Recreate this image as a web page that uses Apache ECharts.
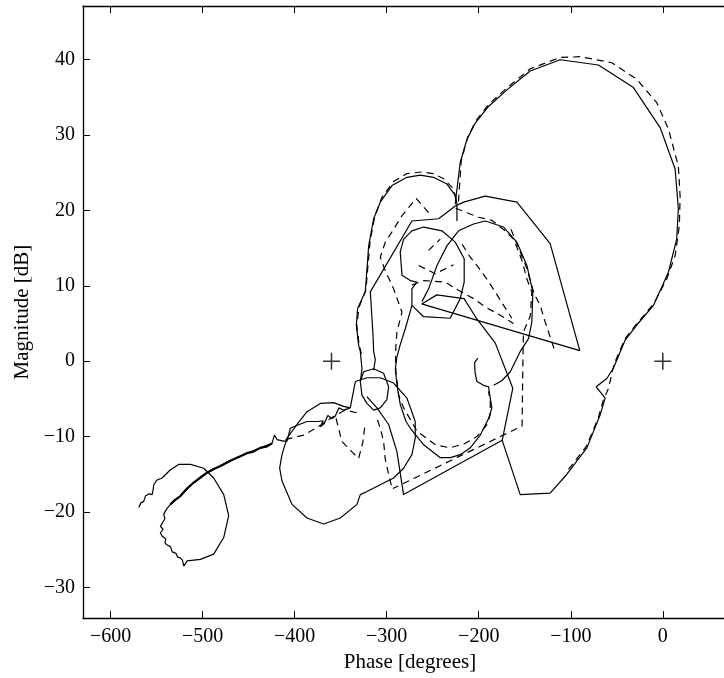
<!DOCTYPE html>
<html>
<head>
<meta charset="utf-8">
<script src="https://cdn.jsdelivr.net/npm/echarts@6/dist/echarts.min.js"></script>
<style>
  html, body { margin: 0; padding: 0; background: #fff; }
  #chart { width: 724px; height: 678px; }
</style>
</head>
<body>
<div id="chart"></div>
<script>
// Nichols plot: open-loop phase [deg] vs magnitude [dB]
const phaseTicks = [-600, -500, -400, -300, -200, -100, 0];
const magTicks = [-30, -20, -10, 0, 10, 20, 30, 40];
const criticalPoints = [[-360, 0], [0, 0]];

// ---- measured response (solid) ----
const measuredMainLoop = [
  [-225.6,20.8],[-223.7,22.8],[-220.1,26.4],[-212.9,29.4],[-203.8,31.6],[-189.4,33.8],[-169.4,36.0],
  [-144.1,38.5],[-111.5,40.0],[-69.9,39.3],[-31.9,36.3],[-2.9,31.0],[13.4,25.5],[16.9,20.2],[15.1,16.2],
  [6.1,11.8],[-10.2,7.4],[-28.3,4.8],[-40.9,2.8],[-53.6,-0.9],[-60.8,-2.3],[-72.4,-3.4],[-62.6,-4.9],
  [-68.0,-7.1],[-82.5,-11.5],[-104.2,-15.0],[-122.4,-17.5],[-154.9,-17.7],[-174.5,-10.5],[-163.0,-3.6],
  [-182.0,2.4],[-202.0,5.6],[-216.0,8.3],[-245.5,8.8],[-262.0,7.6],[-90.2,1.4],[-122.4,15.6],
  [-158.5,21.1],[-192.9,21.9],[-216.4,21.1],[-225.5,20.6],[-243.6,18.9],[-272.6,18.6],[-317.8,9.2],
  [-316.0,5.7],[-314.9,3.5],[-314.2,1.3],[-312.4,0.2],[-314.2,-1.2]
];
const measuredUpperLoop = [
  [-223.7,18.6],[-223.7,20.9],[-225.5,22.0],[-234.6,23.5],[-249.1,24.4],[-263.5,24.7],[-278.0,24.4],
  [-294.3,23.3],[-307.0,21.1],[-314.2,18.9],[-319.6,15.3],[-321.4,12.3],[-323.3,9.2],[-331.6,7.0],
  [-333.0,4.8],[-330.5,2.1],[-328.7,1.3],[-327.5,-0.2],[-326.9,-1.0],[-328.7,-2.7]
];
const measuredSmallRing = [
  [-328.7,-2.7],[-325.1,-1.4],[-314.2,-1.0],[-303.4,-1.6],[-297.9,-3.4],[-299.8,-5.1],[-307.0,-6.2],
  [-314.2,-6.5],[-321.5,-5.6],[-326.9,-4.5],[-328.7,-2.7]
];
const measuredDrop = [
  [-321.5,-4.7],[-310.6,-6.2],[-297.9,-8.4],[-288.9,-12.0],[-281.7,-17.7],[-174.5,-10.5]
];
const measuredInnerLoop = [
  [-272.6,7.4],[-259.9,5.9],[-231.0,5.7],[-220.1,8.3],[-215.8,10.5],[-215.8,13.6],[-225.5,15.8],
  [-240.0,17.3],[-259.9,17.8],[-272.6,17.3],[-281.6,16.2],[-285.3,14.5],[-283.4,11.4],[-274.4,10.7],
  [-267.2,10.5],[-272.6,9.6],[-272.6,7.4]
];
const measuredRightRing = [
  [-261.7,7.9],[-254.5,9.6],[-245.4,12.7],[-234.6,15.3],[-222.0,17.3],[-205.6,18.2],[-192.9,18.6],
  [-173.0,17.8],[-158.5,15.8],[-147.7,12.7],[-141.2,9.2],[-142.3,5.2],[-145.9,3.0],[-154.9,1.3],
  [-165.7,-1.4],[-175.0,-2.6],[-183.8,-3.2]
];
const measuredMidRing = [
  [-272.6,7.4],[-279.8,4.3],[-285.3,2.2],[-289.0,0.5],[-290.6,-1.0],[-288.8,-3.2],[-285.2,-5.8],
  [-279.0,-8.0],[-274.3,-8.9],[-259.8,-11.1],[-241.8,-12.8],[-230.9,-12.8],[-220.0,-12.4],[-209.2,-11.5],
  [-198.3,-9.8],[-189.3,-7.6],[-185.7,-6.2],[-187.5,-4.9],[-189.3,-3.4],[-194.7,-3.2],[-202.0,-2.7],
  [-204.0,-1.5],[-204.5,-0.2],[-201.0,0.4]
];
const measuredBlob = [
  [-339.6,-6.2],[-334.1,-2.7],[-321.5,-2.2],[-307.0,-2.2],[-292.5,-2.9],[-278.0,-4.9],[-269.0,-8.0],
  [-269.0,-10.2],[-272.6,-12.4],[-281.7,-14.2],[-292.5,-15.5],[-307.0,-16.4],[-321.5,-17.3],[-328.7,-17.7],
  [-332.3,-19.0],[-350.4,-20.8],[-368.5,-21.6],[-386.6,-20.8],[-402.9,-19.0],[-413.8,-15.9],[-416.3,-14.2],
  [-413.8,-12.4],[-408.3,-10.2],[-397.5,-8.4],[-386.6,-6.7],[-372.1,-5.6],[-357.7,-5.5],[-346.8,-6.0],
  [-339.6,-6.2]
];
const measuredTail = [
  [-339.6,-6.2],[-346.8,-6.5],[-352.0,-6.2],[-356.0,-7.3],[-359.5,-7.6],[-364.0,-7.2],[-368.0,-8.3],
  [-372.1,-8.7],[-369.0,-7.9],[-375.0,-8.0],[-386.6,-8.0],[-395.0,-8.4],[-404.7,-8.9],[-408.3,-10.6],
  [-412.0,-10.6],[-419.2,-10.4],[-422.0,-9.8],[-424.6,-10.9],[-437.3,-11.5],[-459.0,-12.6],[-462.6,-12.8],
  [-480.7,-13.9],[-495.2,-14.8],[-509.7,-16.1],[-524.2,-17.9],[-535.0,-19.0],[-539.0,-19.6],[-542.3,-20.3],
  [-541.0,-20.9],[-545.9,-21.9],[-543.0,-22.3],[-546.0,-22.8],[-544.1,-23.2],[-540.0,-23.6],[-541.0,-24.1],
  [-538.6,-24.4],[-535.0,-24.6],[-533.0,-25.3],[-529.0,-25.5],[-527.0,-26.0],[-524.2,-26.1],[-522.0,-26.4],
  [-520.5,-27.2]
];
// noisy high-frequency stretch, drawn heavier
const measuredNoise = [
  [-424.6,-10.9],[-430.0,-11.3],[-437.3,-11.5],[-445.0,-12.0],[-452.0,-12.2],[-459.0,-12.6],[-470.0,-13.2],
  [-480.7,-13.9],[-488.0,-14.3],[-495.2,-14.8],[-502.0,-15.4],[-509.7,-16.1],[-517.0,-16.9],[-524.2,-17.9],
  [-530.0,-18.4],[-535.0,-19.0]
];
const measuredLowRing = [
  [-520.5,-27.2],[-516.9,-26.5],[-502.4,-26.3],[-488.0,-25.6],[-477.1,-23.4],[-471.7,-20.5],[-477.1,-17.7],
  [-488.0,-15.5],[-498.8,-14.2],[-513.3,-13.7],[-526.0,-13.7],[-535.0,-14.4],[-544.1,-15.5],[-550.0,-15.8],
  [-553.1,-16.4],[-554.0,-17.2],[-554.9,-17.7],[-558.0,-17.6],[-562.2,-17.9],[-564.0,-18.6],[-567.0,-18.8],
  [-569.4,-19.4]
];

// ---- model response (dashed) ----
const modelMainLoop = [
  [-222.0,21.2],[-219.0,26.6],[-212.0,29.7],[-203.0,31.9],[-189.0,34.1],[-169.0,36.3],[-144.0,38.8],
  [-111.5,40.3],[-89.8,40.4],[-55.4,39.6],[-28.3,37.4],[-6.5,34.3],[6.1,30.8],[16.9,25.9],[18.8,21.9],
  [18.0,18.0],[13.4,14.0],[4.3,10.9],[-10.0,7.6],[-28.0,5.0],[-41.0,3.0],[-53.0,-0.4],[-59.0,-3.6],
  [-65.0,-5.3],[-70.0,-7.5],[-83.0,-11.3],[-104.0,-14.6]
];
const modelUpperLoop = [
  [-225.0,21.5],[-227.0,22.8],[-238.0,24.2],[-250.0,24.9],[-262.0,25.1],[-278.0,24.9],[-292.0,23.9],
  [-305.0,21.8],[-313.0,19.2],[-318.0,16.0],[-320.5,12.5],[-322.5,9.5],[-330.0,7.2],[-332.5,4.8],
  [-330.0,2.2],[-327.5,1.0]
];
const modelInnerPath = [
  [-254.5,19.7],[-268.0,21.6],[-283.4,19.3],[-292.5,17.5],[-301.5,15.8],[-307.0,13.8],[-301.5,12.0],
  [-292.5,9.6],[-283.4,6.5],[-288.9,3.9],[-290.5,1.0],[-290.0,-1.5],[-287.0,-4.5],[-281.6,-6.2],
  [-267.0,-9.3],[-247.0,-11.1],[-231.0,-11.5],[-214.6,-10.9],[-202.0,-10.0],[-191.0,-8.4],[-187.5,-7.1],
  [-187.5,-5.4],[-189.3,-4.0]
];
const modelZigzag = [
  [-265.3,12.7],[-247.2,11.6],[-227.4,12.8]
];
const modelRise = [
  [-254.5,14.7],[-241.8,16.2]
];
const modelCross = [
  [-272.6,10.1],[-259.9,10.7],[-236.4,10.5],[-221.9,9.4],[-205.6,8.3],[-193.0,7.2],[-176.7,6.1],[-162.2,5.0]
];
const modelDiagonal = [
  [-218.0,15.5],[-209.2,13.8],[-202.0,12.7],[-191.2,10.9],[-182.1,9.2],[-173.0,7.4],[-164.0,5.7]
];
const modelRightRing = [
  [-225.0,20.3],[-212.8,19.7],[-200.2,19.1],[-186.0,18.7],[-171.2,17.3],[-162.2,16.2],[-158.5,15.1],
  [-153.1,13.4],[-147.7,10.9],[-142.3,9.2],[-144.0,6.0],[-151.4,3.9],[-152.0,0.0],[-152.9,-8.6],
  [-293.2,-16.9]
];
const modelSlope = [
  [-165.0,17.5],[-158.6,15.6],[-147.7,12.3],[-140.0,9.0],[-133.2,7.4],[-127.8,5.2],[-118.0,1.6]
];
const modelLowPath = [
  [-410.0,-10.4],[-390.0,-9.8],[-372.0,-8.5],[-356.0,-7.2],[-345.0,-6.5],[-330.5,-6.9]
];
const modelLowDip = [
  [-355.0,-7.6],[-352.0,-9.0],[-349.0,-10.6],[-338.0,-12.0],[-330.5,-12.9],[-326.0,-10.8],[-323.3,-8.2]
];
const modelLowRise = [
  [-310.0,-7.8],[-307.0,-8.9],[-303.4,-10.6],[-301.6,-13.0],[-297.9,-15.0],[-294.3,-16.8]
];

const solidTraces = [measuredMainLoop, measuredUpperLoop, measuredSmallRing, measuredDrop, measuredInnerLoop,
  measuredRightRing, measuredMidRing, measuredBlob, measuredTail, measuredLowRing];
const dashedTraces = [modelMainLoop, modelUpperLoop, modelInnerPath, modelZigzag, modelRise, modelCross,
  modelDiagonal, modelRightRing, modelSlope, modelLowPath, modelLowDip, modelLowRise];

const FONT = 'Liberation Serif';
const minus = v => String(v).replace('-', '\u2212');

function trace(data, dashed, width) {
  return {
    type: 'line', data: data, showSymbol: false, symbol: 'none', silent: true,
    lineStyle: { color: '#000', width: width || 1.2, type: dashed ? [7, 5] : 'solid' },
    z: dashed ? 3 : 2
  };
}

const series = [];
solidTraces.forEach(d => series.push(trace(d, false)));
series.push(trace(measuredNoise, false, 2.2));
dashedTraces.forEach(d => series.push(trace(d, true)));
series.push({
  type: 'scatter', data: criticalPoints, silent: true,
  symbol: 'path://M-0.9,-10 H0.9 V-0.9 H10 V0.9 H0.9 V10 H-0.9 V0.9 H-10 V-0.9 H-0.9 Z',
  symbolSize: 17, itemStyle: { color: '#000' }, z: 4
});

// the axes box runs past the right edge of the page, so only the left part is shown
const xBase = {
  type: 'value', min: -630, max: 66.5,
  splitLine: { show: false },
  axisLine: { show: true, onZero: false, lineStyle: { color: '#000', width: 1.3 } },
  axisTick: { show: true, inside: true, length: 7, customValues: phaseTicks, lineStyle: { color: '#000', width: 1 } }
};

const chart = echarts.init(document.getElementById('chart'), null, { renderer: 'canvas' });
chart.setOption({
  animation: false,
  backgroundColor: '#fff',
  grid: { left: 83, top: 6, right: 0, bottom: 57, containLabel: false },
  xAxis: [
    Object.assign({}, xBase, {
      position: 'bottom',
      name: 'Phase [degrees]', nameLocation: 'middle', nameGap: 33,
      nameTextStyle: { fontFamily: FONT, fontSize: 21, color: '#000', padding: [0, 0, 0, 13] },
      axisLabel: { show: true, customValues: phaseTicks, margin: 9, formatter: minus,
        fontFamily: FONT, fontSize: 20, color: '#000' }
    }),
    Object.assign({}, xBase, { position: 'top', axisLabel: { show: false } })
  ],
  yAxis: {
    type: 'value', min: -34.09, max: 47.13,
    splitLine: { show: false },
    axisLine: { show: true, onZero: false, lineStyle: { color: '#000', width: 1.3 } },
    axisTick: { show: true, inside: true, length: 7, customValues: magTicks, lineStyle: { color: '#000', width: 1 } },
    axisLabel: { show: true, customValues: magTicks, margin: 8, formatter: minus,
      fontFamily: FONT, fontSize: 20, color: '#000' },
    name: 'Magnitude [dB]', nameLocation: 'middle', nameGap: 47, nameRotate: 90,
    nameTextStyle: { fontFamily: FONT, fontSize: 21, color: '#000' }
  },
  series: series
});
</script>
</body>
</html>
